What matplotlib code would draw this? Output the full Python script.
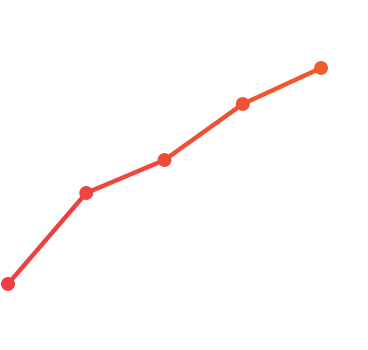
import numpy as np
import matplotlib.pyplot as plt
from matplotlib.collections import LineCollection
from matplotlib.colors import LinearSegmentedColormap

# data
categories = [0, 1, 2, 3, 4]
values = [66, 157, 190, 246, 282]

cmap = LinearSegmentedColormap.from_list('grad', ['#ee3b46', '#f15a2b'])

fig = plt.figure(figsize=(3.68, 3.5), dpi=100)
ax = fig.add_axes([0, 0, 1, 1])

x = np.array(categories, dtype=float)
y = np.array(values, dtype=float)
pts = np.column_stack([x, y]).reshape(-1, 1, 2)
segs = np.concatenate([pts[:-1], pts[1:]], axis=1)
t = np.linspace(0, 1, len(x))
seg_colors = [cmap((t[i] + t[i + 1]) / 2) for i in range(len(segs))]

lc = LineCollection(segs, colors=seg_colors, linewidths=3.2, capstyle='round', joinstyle='round')
ax.add_collection(lc)
ax.scatter(x, y, s=100, c=[cmap(v) for v in t], zorder=3, linewidths=0)

ax.set_xlim(-0.102, 4.60)
ax.set_ylim(0, 350)
ax.axis('off')

fig.savefig('out.png', dpi=100)
